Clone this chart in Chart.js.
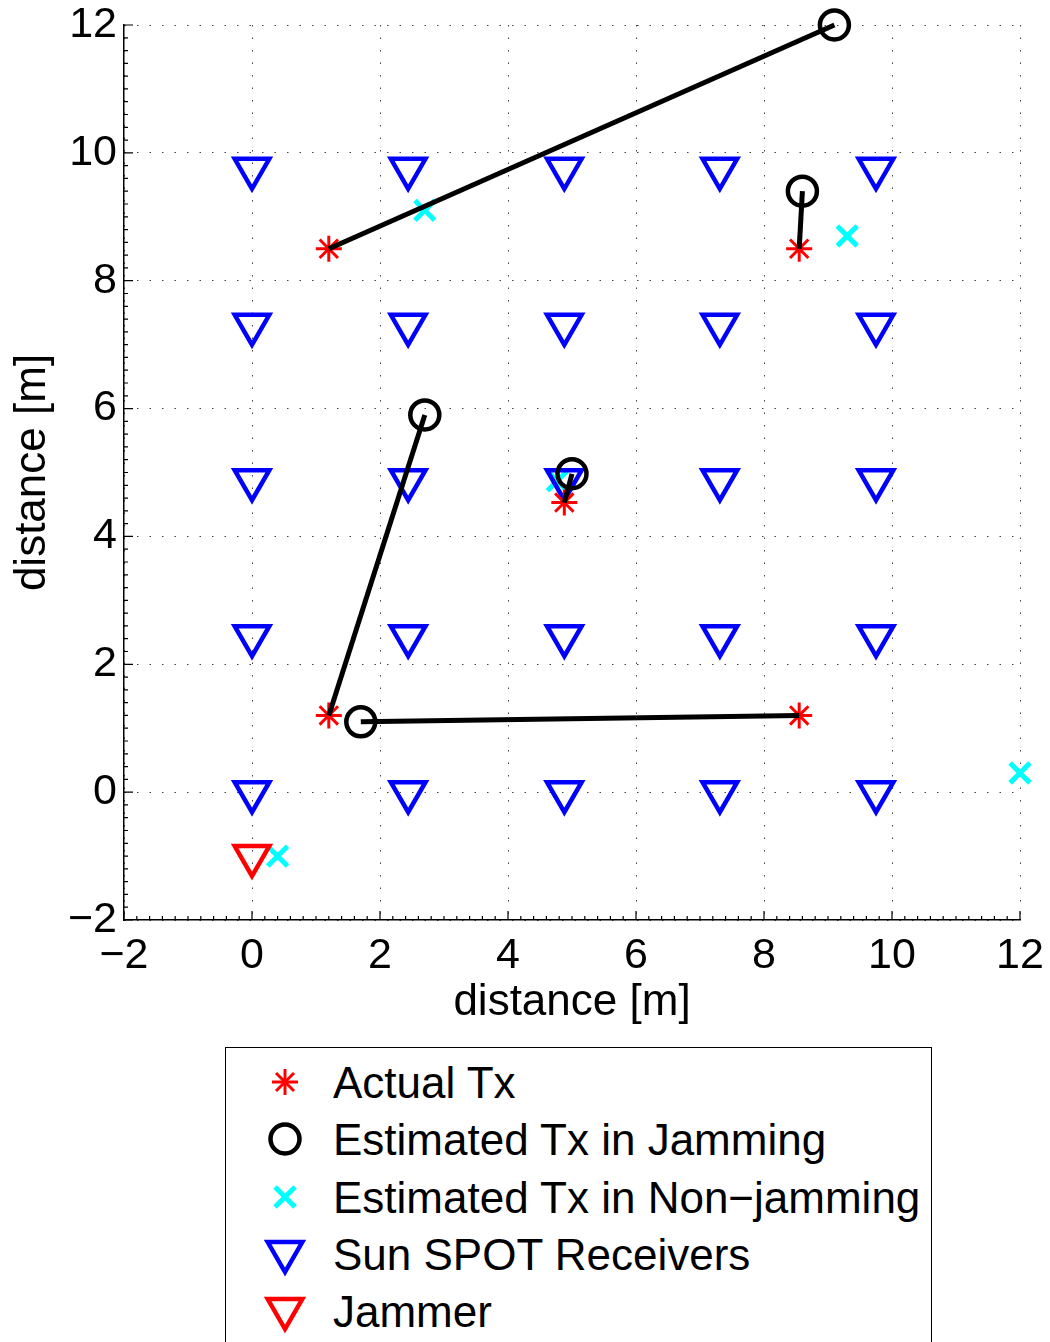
<!DOCTYPE html>
<html>
<head>
<meta charset="utf-8">
<script src="https://cdn.jsdelivr.net/npm/chart.js@4.4.1/dist/chart.umd.min.js"></script>
<style>
  html, body { margin: 0; padding: 0; background: #fff; overflow: hidden; }
  #wrap { position: relative; width: 1050px; height: 1342px; }
  #plot { position: absolute; left: 0; top: 0; }
  #legend {
    position: absolute; left: 225px; top: 1047px; width: 707px; height: 330px;
    border: 1.5px solid #000; box-sizing: border-box;
    font-family: "Liberation Sans", Arial, sans-serif; font-size: 44px; color: #000;
  }
  .row { position: absolute; left: 0; height: 57px; white-space: nowrap; }
  .row svg { position: absolute; left: 34px; top: 3px; }
  .row span { position: absolute; left: 107px; line-height: 57px; top: 0; }
</style>
</head>
<body>
<div id="wrap">
  <canvas id="plot" width="1050" height="1030"></canvas>
  <div id="legend"></div>
</div>
<script>
const FONT = '"Liberation Sans", Arial, sans-serif';

/* ---------- Data ---------- */
const receiverCols = [0, 2.44, 4.88, 7.31, 9.75];
const receiverRows = [0, 2.44, 4.88, 7.31, 9.75];

const actualX = [1.2, 8.55, 4.88, 1.2, 8.55];
const actualY = [8.5, 8.5, 4.53, 1.2, 1.2];

const jammingX = [9.1, 8.6, 5.0, 2.7, 1.7];
const jammingY = [12, 9.4, 4.98, 5.9, 1.1];

const nonJammingX = [2.7, 9.3, 4.77, 0.4, 12];
const nonJammingY = [9.1, 8.7, 4.87, -1.0, 0.3];

const jammerX = [0];
const jammerY = [-1];

const axisTicks = [-2, 0, 2, 4, 6, 8, 10, 12];

const legendLabels = [
    "Actual Tx",
    "Estimated Tx in Jamming",
    "Estimated Tx in Non\u2212jamming",
    "Sun SPOT Receivers",
    "Jammer"
];

/* ---------- Build point lists ---------- */
function zipPoints(xs, ys) {
    return xs.map((x, i) => ({ x: x, y: ys[i] }));
}

const receivers = [];
receiverRows.forEach(y => receiverCols.forEach(x => receivers.push({ x: x, y: y })));

const segmentSets = actualX.map((x, i) => ({
    type: "line",
    data: [{ x: x, y: actualY[i] }, { x: jammingX[i], y: jammingY[i] }],
    borderColor: "#000",
    borderWidth: 5,
    pointRadius: 0,
    showLine: true,
    fill: false,
    clip: false,
    order: 0
}));

function tickText(v) {
    return v < 0 ? "\u2212" + (-v) : String(v);
}

/* ---------- Inward ticks (major + minor) ---------- */
const inwardTicks = {
    id: "inwardTicks",
    afterDraw(chart) {
        const { ctx, chartArea } = chart;
        const xs = chart.scales.x, ys = chart.scales.y;
        ctx.save();
        ctx.strokeStyle = "#000";
        ctx.lineWidth = 1.2;
        for (let i = 0; i <= 70; i++) {
            const v = -2 + i * 0.2;
            const major = i % 10 === 0;
            const len = major ? 9 : 4;
            const px = xs.getPixelForValue(v);
            const py = ys.getPixelForValue(v);
            ctx.beginPath();
            ctx.moveTo(px, chartArea.bottom);
            ctx.lineTo(px, chartArea.bottom - len);
            ctx.moveTo(chartArea.left, py);
            ctx.lineTo(chartArea.left + len, py);
            ctx.stroke();
        }
        ctx.restore();
    }
};

/* ---------- Chart ---------- */
const axisCommon = {
    type: "linear",
    min: -2,
    max: 12,
    afterBuildTicks: s => { s.ticks = axisTicks.map(v => ({ value: v })); },
    grid: { color: "#444", lineWidth: 1, drawTicks: false },
    border: { display: true, color: "#000", width: 1.5, dash: [1.5, 11] }
};

new Chart(document.getElementById("plot"), {
    type: "scatter",
    data: {
        datasets: [
            ...segmentSets,
            {
                label: legendLabels[1],
                data: zipPoints(jammingX, jammingY),
                pointStyle: "circle",
                pointRadius: 14.5,
                borderColor: "#000",
                backgroundColor: "rgba(0,0,0,0)",
                borderWidth: 4.5,
                clip: false,
                order: 1
            },
            {
                label: legendLabels[0],
                data: zipPoints(actualX, actualY),
                pointStyle: "star",
                pointRadius: 13,
                borderColor: "#ff0000",
                borderWidth: 3,
                clip: false,
                order: 2
            },
            {
                label: legendLabels[3],
                data: receivers,
                pointStyle: "triangle",
                rotation: 180,
                pointRadius: 20,
                borderColor: "#0000ff",
                backgroundColor: "rgba(0,0,0,0)",
                borderWidth: 4.5,
                clip: false,
                order: 3
            },
            {
                label: legendLabels[4],
                data: zipPoints(jammerX, jammerY),
                pointStyle: "triangle",
                rotation: 180,
                pointRadius: 20,
                borderColor: "#ff0000",
                backgroundColor: "rgba(0,0,0,0)",
                borderWidth: 4.5,
                clip: false,
                order: 3
            },
            {
                label: legendLabels[2],
                data: zipPoints(nonJammingX, nonJammingY),
                pointStyle: "crossRot",
                pointRadius: 14,
                borderColor: "#00ffff",
                borderWidth: 5,
                clip: false,
                order: 4
            }
        ]
    },
    options: {
        responsive: false,
        animation: false,
        layout: { padding: { left: 0, top: 25, right: 30, bottom: 0 } },
        plugins: { legend: { display: false }, tooltip: { enabled: false } },
        elements: { point: { hoverRadius: 0 } },
        scales: {
            x: Object.assign({}, axisCommon, {
                position: "bottom",
                afterFit: s => { s.height = 110; s.paddingLeft = 0; s.paddingRight = 0; },
                ticks: { color: "#000", font: { family: FONT, size: 43 }, padding: 10, maxRotation: 0, autoSkip: false, callback: tickText },
                title: { display: true, text: "distance [m]", color: "#000", font: { family: FONT, size: 44 }, padding: { top: 0, bottom: 1 } }
            }),
            y: Object.assign({}, axisCommon, {
                position: "left",
                afterFit: s => { s.width = 124; s.paddingTop = 0; s.paddingBottom = 0; },
                ticks: { color: "#000", font: { family: FONT, size: 43 }, padding: 7, autoSkip: false, callback: tickText },
                title: { display: true, text: "distance [m]", color: "#000", font: { family: FONT, size: 44 }, padding: { top: 6, bottom: 0 } }
            })
        }
    },
    plugins: [inwardTicks]
});

/* ---------- Legend ---------- */
const legendMarks = [
    '<g stroke="#ff0000" stroke-width="3"><line x1="12" y1="25" x2="38" y2="25"/><line x1="25" y1="12" x2="25" y2="38"/><line x1="16" y1="16" x2="34" y2="34"/><line x1="16" y1="34" x2="34" y2="16"/></g>',
    '<circle cx="25" cy="25" r="14.5" fill="none" stroke="#000" stroke-width="4.5"/>',
    '<g stroke="#00ffff" stroke-width="5"><line x1="15" y1="15" x2="35" y2="35"/><line x1="15" y1="35" x2="35" y2="15"/></g>',
    '<polygon points="25,43 7.7,13 42.3,13" fill="none" stroke="#0000ff" stroke-width="4.5"/>',
    '<polygon points="25,43 7.7,13 42.3,13" fill="none" stroke="#ff0000" stroke-width="4.5"/>'
];

const legendEl = document.getElementById("legend");
legendLabels.forEach((label, i) => {
    const row = document.createElement("div");
    row.className = "row";
    row.style.top = (6 + i * 57.3) + "px";
    row.innerHTML = `<svg width="50" height="50" viewBox="0 0 50 50">${legendMarks[i]}</svg><span>${label}</span>`;
    legendEl.appendChild(row);
});
</script>
</body>
</html>
